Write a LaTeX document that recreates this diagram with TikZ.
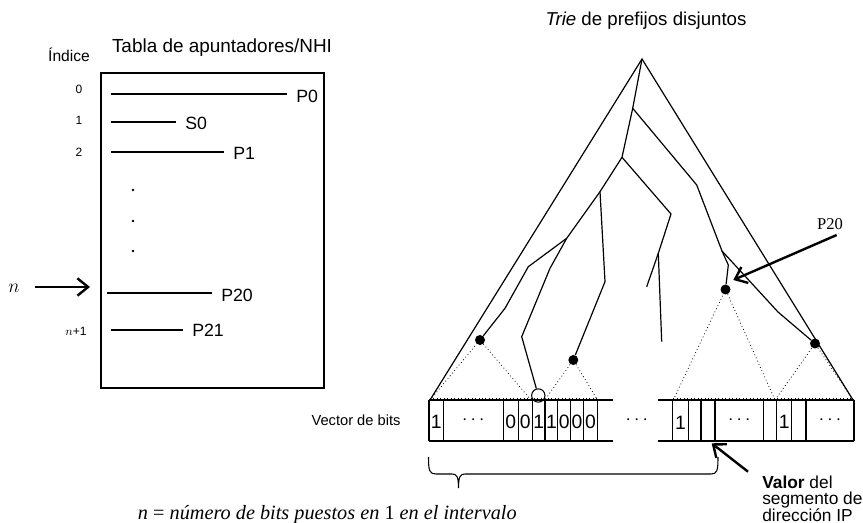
\documentclass[tikz,border=0pt]{standalone}
\usepackage{fontspec}
\setmainfont{Liberation Sans}
\newfontfamily\seriffont{Liberation Serif}
\usetikzlibrary{arrows.meta}
\begin{document}
\begin{tikzpicture}[x=0.75pt,y=-0.75pt,
  lab/.style={inner sep=0pt, font=\fontsize{13.3}{15}\selectfont},
  idx/.style={inner sep=0pt, font=\fontsize{9}{10}\selectfont},
  bit/.style={inner sep=0pt, font=\fontsize{14.5}{16}\selectfont},
  rowline/.style={line width=0.8pt, shorten >=7pt},
  trieline/.style={line width=0.9pt},
  subtri/.style={dotted, line width=0.6pt},
  vecline/.style={line width=0.8pt},
  smalldot/.style={circle, fill=black, inner sep=0pt, minimum size=2pt},
  fdot/.style={circle, fill=black, inner sep=0pt, minimum size=7.5pt},
  odot/.style={circle, draw=black, fill=white, line width=0.8pt, inner sep=0pt, minimum size=10pt},
  bigarrow/.style={line width=1.8pt, -{Straight Barb[length=8pt,width=13pt,line width=1.8pt]}},
]
\useasboundingbox (0,0) rectangle (863,523);

% ---------- titles ----------
\node[inner sep=0pt, font=\fontsize{14}{16}\selectfont] (title) at (646,21) {\textit{Trie} de prefijos disjuntos};
\node[inner sep=0pt, font=\fontsize{11.7}{13}\selectfont] (indice) at (69,55) {Índice};
\node[inner sep=0pt, font=\fontsize{14.2}{16}\selectfont] (tabla) at (222,48) {Tabla de apuntadores/NHI};

% ---------- table ----------
\node[draw, line width=0.8pt, inner sep=0pt, minimum width=167.25pt, minimum height=236.25pt] (tbox) at (212.5,230.5) {};

\node[idx] (i0) at (79,89) {0};
\node[idx] (i1) at (79,120) {1};
\node[idx] (i2) at (79,152) {2};
\node[idx] (in1) at (76,331) {$n$+1};

\node[lab, anchor=west] (p0) at (296,96) {P0};
\node[lab, anchor=west] (s0) at (185,123) {S0};
\node[lab, anchor=west] (p1) at (233,153) {P1};
\node[lab, anchor=west] (p20t) at (221,295) {P20};
\node[lab, anchor=west] (p21) at (192,330) {P21};

\coordinate (l0) at (111,94);
\coordinate (l1) at (111,122);
\coordinate (l2) at (111,152);
\coordinate (ln) at (107,293);
\coordinate (ln1) at (111,330);
\draw[rowline] (l0) -- (l0 -| p0.west);
\draw[rowline] (l1) -- (l1 -| s0.west);
\draw[rowline] (l2) -- (l2 -| p1.west);
\draw[rowline] (ln) -- (ln -| p20t.west);
\draw[rowline] (ln1) -- (ln1 -| p21.west);

\node[smalldot] (v1) at (133,190) {};
\node[smalldot] (v2) at (133,221) {};
\node[smalldot] (v3) at (133,251) {};

\node[inner sep=0pt, font=\fontsize{13.5}{15}\selectfont] (nlab) at (14,288) {$n$};
\coordinate (nstart) at (35,287);
\coordinate (nend) at (90,287);
\draw[bigarrow] (nstart) -- (nend);

% ---------- trie ----------
\coordinate (A) at (642,59);
\coordinate (L) at (430,400);
\coordinate (R) at (853,400);
\draw[trieline] (L) -- (A) -- (R);

\coordinate (a1) at (632.7,108.3);
\coordinate (a2) at (622,157.3);
\coordinate (a3) at (600,191.7);
\coordinate (a4) at (566.7,238.3);
\coordinate (a5) at (528.3,266.7);
\coordinate (a6) at (505,308.3);
\coordinate (b1) at (550,268.3);
\coordinate (b2) at (521.7,336.7);
\coordinate (c1) at (605,281.7);
\coordinate (d1) at (671,214);
\coordinate (d2) at (658.3,253.3);
\coordinate (d3) at (646.7,286.7);
\coordinate (d4) at (661.7,341.7);
\coordinate (e1) at (696.7,185);
\coordinate (e2) at (722,251);
\coordinate (e3) at (728.3,265);
\coordinate (f1) at (778,312);

\node[fdot] (D1) at (480,340) {};
\node[fdot] (D2) at (573.3,360) {};
\node[fdot] (D3) at (725.5,289.5) {};
\node[fdot] (D4) at (815,343.5) {};
\node[odot] (OC) at (538.3,395.5) {};

\draw[trieline] (A) -- (a1) -- (a2) -- (a3) -- (a4) -- (a5) -- (a6) -- (D1);
\draw[trieline] (a4) -- (b1) -- (b2) -- (OC);
\draw[trieline] (a3) -- (c1) -- (D2);
\draw[trieline] (a2) -- (d1) -- (d2) -- (d3);
\draw[trieline] (d2) -- (d4);
\draw[trieline] (a1) -- (e1) -- (e2) -- (e3) -- (D3);
\draw[trieline] (e2) -- (f1) -- (D4);

% dotted sub-tries
\coordinate (s1) at (531,400);
\coordinate (s2) at (545.5,399);
\coordinate (s3) at (597.5,400);
\coordinate (s4) at (673.3,400);
\coordinate (s5) at (775,400);
\draw[subtri] (L) -- (D1) -- (s1);
\draw[subtri] (s2) -- (D2) -- (s3);
\draw[subtri] (s4) -- (D3) -- (s5);
\draw[subtri] (s5) -- (D4) -- (R);
\draw[subtri] (430,398.7) -- (597.5,398.7);
\draw[subtri] (673.3,398.7) -- (853,398.7);

% ---------- bit vector ----------
\node[inner sep=0pt, font=\fontsize{11}{13}\selectfont] (vlab) at (356,420) {Vector de bits};

\draw[vecline] (429,400) -- (613.3,400);
\draw[vecline] (429,441) -- (613.3,441);
\foreach \x in {429,443.3,503.3,518.3,532.3,545,557.7,570.7,583.3,597.7}
  \draw[vecline] (\x,400) -- (\x,441);
\draw[vecline] (658.3,400) -- (854,400);
\draw[vecline] (658.3,441) -- (854,441);
\foreach \x in {672.7,688.3,701,715,763.3,776.7,791.7,806,854}
  \draw[vecline] (\x,400) -- (\x,441);

\node[bit] (b01) at (436.3,422) {1};
\node[bit] (b02) at (473.3,420) {$\cdots$};
\node[bit] (b03) at (510.8,422) {0};
\node[bit] (b04) at (525.3,422) {0};
\node[bit] (b05) at (538.7,422) {1};
\node[bit] (b06) at (551.4,422) {1};
\node[bit] (b07) at (564.2,422) {0};
\node[bit] (b08) at (577,422) {0};
\node[bit] (b09) at (590.5,422) {0};
\node[bit] (bmid) at (636.7,420) {$\cdots$};
\node[bit] (b11) at (680.5,423) {1};
\node[bit] (b12) at (739.2,420) {$\cdots$};
\node[bit] (b13) at (784.2,422) {1};
\node[bit] (b14) at (830,420) {$\cdots$};

% brace
\draw[line width=0.8pt] (428.5,457) .. controls (428.5,471) and (429.5,474) .. (436,474) -- (452,474)
  .. controls (456.5,474) and (458.5,476) .. (458.5,488)
  .. controls (458.5,476) and (460.5,474) .. (465,474) -- (711,474)
  .. controls (717,474) and (718,471) .. (718,457);

% value arrow and text
\coordinate (vstart) at (748,471.7);
\coordinate (vend) at (711.7,443.3);
\draw[bigarrow] (vstart) -- (vend);
\node[inner sep=0pt, anchor=base west, font=\fontsize{13}{15}\selectfont] (val1) at (762,488) {\textbf{Valor} del};
\node[inner sep=0pt, anchor=base west, font=\fontsize{13}{15}\selectfont] (val2) at (762,504.5) {segmento de};
\node[inner sep=0pt, anchor=base west, font=\fontsize{13}{15}\selectfont] (val3) at (762,521) {dirección IP};

% P20 pointer in trie
\node[inner sep=0pt, font=\seriffont\fontsize{12.4}{14}\selectfont] (p20) at (830,224) {P20};
\coordinate (pstart) at (836.7,235);
\coordinate (pend) at (733.3,280);
\draw[bigarrow] (pstart) -- (pend);

% formula
\node[inner sep=0pt, anchor=base west, font=\seriffont\fontsize{15.2}{17}\selectfont] (formula) at (137.7,519)
  {\textit{n} = \textit{número de bits puestos en} 1 \textit{en el intervalo}};
\end{tikzpicture}
\end{document}
